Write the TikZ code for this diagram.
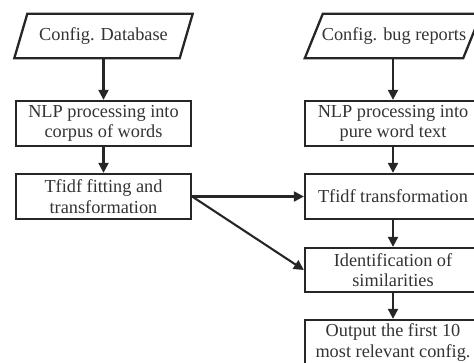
\documentclass[tikz,border=0pt]{standalone}
\usepackage{fontspec}
\setmainfont{Liberation Serif}
\usetikzlibrary{arrows.meta}
\begin{document}
\begin{tikzpicture}[x=1pt,y=-1pt,
  every node/.style={font=\fontsize{18.3}{20.5}\selectfont, text=black!80, align=center, inner sep=0pt},
  procbox/.style={draw=black!85, line width=2.3pt, minimum width=176pt, minimum height=45pt},
  iobox/.style={minimum width=178pt, minimum height=44pt},
  ioline/.style={draw=black!85, line width=2.3pt, line join=miter},
  conn/.style={draw=black!85, line width=2.1pt, -{Triangle[length=10pt,width=10pt]}}]
\useasboundingbox (0,0) rectangle (474,363);
% left column
\node[iobox] (db) at (103.5,36) {Config. Database};
\draw[ioline] (db.south west) -- ([xshift=13pt]db.north west) -- (db.north east) -- ([xshift=-13pt]db.south east) -- cycle;
\node[procbox, minimum width=175pt] (nlpa) at (103.5,123.5) {NLP processing into\\corpus of words};
\node[procbox, minimum width=175pt] (tfa) at (103.5,196.5) {Tfidf fitting and\\transformation};
% right column
\node[iobox, minimum width=176pt] (cbr) at (393,36) {\hspace*{2pt}Config. bug reports};
\draw[ioline] (cbr.south west) -- ([xshift=18pt]cbr.north west) -- (cbr.north east) -- ([xshift=-18pt]cbr.south east) -- cycle;
\node[procbox] (nlpb) at (393,123.5) {NLP processing into\\pure word text};
\node[procbox] (tfb) at (393,196.5) {Tfidf transformation};
\node[procbox, minimum height=44pt] (ident) at (393,270) {Identification of\\similarities};
\node[procbox] (outp) at (393,342.5) {Output the first 10\\most relevant config.};
% connectors
\draw[conn] (db.south) -- (nlpa.north);
\draw[conn] (nlpa.south) -- (tfa.north);
\draw[conn] (cbr.south) -- (nlpb.north);
\draw[conn] (nlpb.south) -- (tfb.north);
\draw[conn] (tfb.south) -- (ident.north);
\draw[conn] (ident.south) -- (outp.north);
\draw[conn] (tfa.east) -- (tfb.west);
\draw[conn] (tfa.east) -- (ident.west);
\end{tikzpicture}
\end{document}
